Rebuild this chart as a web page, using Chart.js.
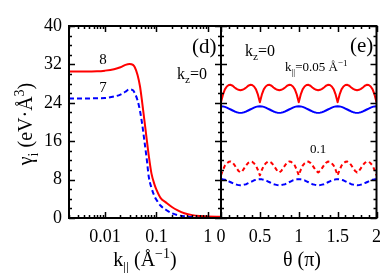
<!DOCTYPE html>
<html>
<head>
<meta charset="utf-8">
<script src="https://cdn.jsdelivr.net/npm/chart.js@4.4.0/dist/chart.umd.min.js"></script>
<style>
  html, body { margin: 0; padding: 0; background: #fff; }
  #wrap { position: relative; width: 389px; height: 273px; overflow: hidden; }
  canvas { position: absolute; top: 0; }
  #leftC { left: 0; }
  #rightC { left: 200px; }
</style>
</head>
<body>
<div id="wrap">
  <canvas id="leftC" width="222" height="273"></canvas>
  <canvas id="rightC" width="189" height="273"></canvas>
</div>
<script>
// ---- data, panel (d): gamma vs k_par (log axis)
const kPar = [0.002, 0.004, 0.007, 0.01, 0.015, 0.02, 0.025, 0.03, 0.035, 0.038, 0.043, 0.048, 0.053, 0.058,
  0.065, 0.071, 0.08, 0.093, 0.1, 0.12, 0.155, 0.2, 0.26, 0.35, 0.5, 0.7, 1, 1.8];
const gamma8 = [30.5, 30.5, 30.55, 30.7, 31.0, 31.4, 31.9, 32.1, 31.9, 31.4, 29.8, 27.4, 24.0, 20.6,
  16.3, 13.0, 9.3, 6.8, 5.9, 4.2, 3.2, 2.3, 1.6, 1.0, 0.6, 0.4, 0.3, 0.25];
const gamma7 = [24.9, 24.9, 24.95, 25.0, 25.3, 25.7, 26.3, 26.8, 26.6, 26.0, 24.5, 22.3, 19.5, 16.3,
  12.2, 8.6, 6.3, 4.4, 3.8, 2.6, 1.67, 1.0, 0.6, 0.35, 0.2, 0.15, 0.1, 0.1];

// ---- data, panel (e): gamma vs theta (units of pi)
const theta = [
  0, 0.025, 0.05, 0.075, 0.1, 0.125, 0.15, 0.175, 0.2, 0.225, 0.25, 0.275, 0.3, 0.325, 0.35, 0.375, 0.4, 0.425, 0.45, 0.475,
  0.5, 0.525, 0.55, 0.575, 0.6, 0.625, 0.65, 0.675, 0.7, 0.725, 0.75, 0.775, 0.8, 0.825, 0.85, 0.875, 0.9, 0.925, 0.95, 0.975,
  1, 1.025, 1.05, 1.075, 1.1, 1.125, 1.15, 1.175, 1.2, 1.225, 1.25, 1.275, 1.3, 1.325, 1.35, 1.375, 1.4, 1.425, 1.45, 1.475,
  1.5, 1.525, 1.55, 1.575, 1.6, 1.625, 1.65, 1.675, 1.7, 1.725, 1.75, 1.775, 1.8, 1.825, 1.85, 1.875, 1.9, 1.925, 1.95, 1.975,
  2];
// k_par = 0.05, band 8 (red solid)
const red005 = [
  24.1, 25.7, 26.8, 27.4, 27.7, 27.75, 27.55, 27.2, 26.9, 26.7, 26.6, 26.7, 26.9, 27.2, 27.55, 27.75, 27.7, 27.4, 26.8, 25.7,
  24.1, 25.7, 26.8, 27.4, 27.7, 27.75, 27.55, 27.2, 26.9, 26.7, 26.6, 26.7, 26.9, 27.2, 27.55, 27.75, 27.7, 27.4, 26.8, 25.7,
  24.1, 25.7, 26.8, 27.4, 27.7, 27.75, 27.55, 27.2, 26.9, 26.7, 26.6, 26.7, 26.9, 27.2, 27.55, 27.75, 27.7, 27.4, 26.8, 25.7,
  24.1, 25.7, 26.8, 27.4, 27.7, 27.75, 27.55, 27.2, 26.9, 26.7, 26.6, 26.7, 26.9, 27.2, 27.55, 27.75, 27.7, 27.4, 26.8, 25.7,
  24.1];
// k_par = 0.05, band 7 (blue solid)
const blue005 = [
  23.3, 23.25, 23.15, 23.0, 22.8, 22.6, 22.4, 22.2, 22.05, 21.95, 21.9, 21.95, 22.05, 22.2, 22.4, 22.6, 22.8, 23.0, 23.15, 23.25,
  23.3, 23.25, 23.15, 23.0, 22.8, 22.6, 22.4, 22.2, 22.05, 21.95, 21.9, 21.95, 22.05, 22.2, 22.4, 22.6, 22.8, 23.0, 23.15, 23.25,
  23.3, 23.25, 23.15, 23.0, 22.8, 22.6, 22.4, 22.2, 22.05, 21.95, 21.9, 21.95, 22.05, 22.2, 22.4, 22.6, 22.8, 23.0, 23.15, 23.25,
  23.3, 23.25, 23.15, 23.0, 22.8, 22.6, 22.4, 22.2, 22.05, 21.95, 21.9, 21.95, 22.05, 22.2, 22.4, 22.6, 22.8, 23.0, 23.15, 23.25,
  23.3];
// k_par = 0.1, band 8 (red dashed)
const red01 = [
  8.9, 10.0, 10.9, 11.4, 11.7, 11.75, 11.5, 11.0, 10.4, 9.8, 9.5, 9.8, 10.4, 11.0, 11.5, 11.75, 11.7, 11.4, 10.9, 10.0,
  8.9, 10.0, 10.9, 11.4, 11.7, 11.75, 11.5, 11.0, 10.4, 9.8, 9.5, 9.8, 10.4, 11.0, 11.5, 11.75, 11.7, 11.4, 10.9, 10.0,
  8.9, 10.0, 10.9, 11.4, 11.7, 11.75, 11.5, 11.0, 10.4, 9.8, 9.5, 9.8, 10.4, 11.0, 11.5, 11.75, 11.7, 11.4, 10.9, 10.0,
  8.9, 10.0, 10.9, 11.4, 11.7, 11.75, 11.5, 11.0, 10.4, 9.8, 9.5, 9.8, 10.4, 11.0, 11.5, 11.75, 11.7, 11.4, 10.9, 10.0,
  8.9];
// k_par = 0.1, band 7 (blue dashed)
const blue01 = [
  8.1, 8.05, 7.95, 7.85, 7.65, 7.45, 7.25, 7.05, 6.95, 6.85, 6.8, 6.85, 6.95, 7.05, 7.25, 7.45, 7.65, 7.85, 7.95, 8.05,
  8.1, 8.05, 7.95, 7.85, 7.65, 7.45, 7.25, 7.05, 6.95, 6.85, 6.8, 6.85, 6.95, 7.05, 7.25, 7.45, 7.65, 7.85, 7.95, 8.05,
  8.1, 8.05, 7.95, 7.85, 7.65, 7.45, 7.25, 7.05, 6.95, 6.85, 6.8, 6.85, 6.95, 7.05, 7.25, 7.45, 7.65, 7.85, 7.95, 8.05,
  8.1, 8.05, 7.95, 7.85, 7.65, 7.45, 7.25, 7.05, 6.95, 6.85, 6.8, 6.85, 6.95, 7.05, 7.25, 7.45, 7.65, 7.85, 7.95, 8.05,
  8.1];

// ---- ticks
const yTicks = [0, 8, 16, 24, 32, 40];
const yMinor = [2, 4, 6, 10, 12, 14, 18, 20, 22, 26, 28, 30, 34, 36, 38];
const kTicks = [0.01, 0.1, 1];
const kMinor = [0.002, 0.003, 0.004, 0.005, 0.006, 0.007, 0.008, 0.009, 0.02, 0.03, 0.04, 0.05, 0.06, 0.07, 0.08, 0.09,
  0.2, 0.3, 0.4, 0.5, 0.6, 0.7, 0.8, 0.9];
const thTicks = [0, 0.5, 1, 1.5, 2];
const thMinor = [0.1, 0.2, 0.3, 0.4, 0.6, 0.7, 0.8, 0.9, 1.1, 1.2, 1.3, 1.4, 1.6, 1.7, 1.8, 1.9];

const SERIF = "'Liberation Serif', 'Times New Roman', serif";

// text with sub/superscripts: parts = [[text, ''|'sub'|'sup'], ...]
function rich(ctx, x, y, parts, size, align) {
  const font = s => s + "px " + SERIF;
  let w = 0;
  parts.forEach(([t, m]) => { ctx.font = font(m ? size * 0.7 : size); w += ctx.measureText(t).width; });
  let cx = align === 'center' ? x - w / 2 : x;
  ctx.textAlign = 'left';
  ctx.textBaseline = 'alphabetic';
  parts.forEach(([t, m]) => {
    const s = m ? size * 0.7 : size;
    ctx.font = font(s);
    const dy = m === 'sub' ? size * 0.28 : m === 'sup' ? -size * 0.42 : 0;
    ctx.fillText(t, cx, y + dy);
    cx += ctx.measureText(t).width;
  });
}

function frameTicks(xMajor, xMinorList) {
  return {
    id: 'frameTicks',
    afterDatasetsDraw(chart) {
      const { ctx, chartArea: a, scales: { x, y } } = chart;
      ctx.save();
      ctx.strokeStyle = '#000';
      ctx.lineWidth = 1.5;
      const vt = (list, len) => list.forEach(v => {
        const px = Math.round(x.getPixelForValue(v)) + 0.5;
        ctx.beginPath();
        ctx.moveTo(px, a.bottom); ctx.lineTo(px, a.bottom - len);
        ctx.moveTo(px, a.top); ctx.lineTo(px, a.top + len);
        ctx.stroke();
      });
      const ht = (list, len) => list.forEach(v => {
        const py = Math.round(y.getPixelForValue(v)) + 0.5;
        ctx.beginPath();
        ctx.moveTo(a.left, py); ctx.lineTo(a.left + len, py);
        ctx.moveTo(a.right, py); ctx.lineTo(a.right - len, py);
        ctx.stroke();
      });
      vt(xMajor, 6); vt(xMinorList, 3);
      ht(yTicks, 6); ht(yMinor, 3);
      ctx.lineWidth = 2;
      ctx.strokeRect(a.left, a.top, a.right - a.left, a.bottom - a.top);
      ctx.restore();
    }
  };
}

function labels(offsetX, items) {
  return {
    id: 'labels',
    afterDraw(chart) {
      const ctx = chart.ctx;
      ctx.save();
      ctx.fillStyle = '#000';
      items.forEach(it => {
        if (it.rot) {
          ctx.save();
          ctx.translate(it.x - offsetX, it.y);
          ctx.rotate(-Math.PI / 2);
          rich(ctx, 0, 0, it.parts, it.size, 'center');
          ctx.restore();
        } else {
          rich(ctx, it.x - offsetX, it.y, it.parts, it.size, it.align);
        }
      });
      ctx.restore();
    }
  };
}

const tickFont = { family: SERIF, size: 18 };
const common = {
  responsive: false,
  animation: false,
  events: [],
  plugins: { legend: { display: false }, tooltip: { enabled: false } },
  elements: { point: { radius: 0 }, line: { borderJoinStyle: 'round' } }
};

// panel (d)
new Chart(document.getElementById('leftC'), {
  type: 'line',
  data: {
    datasets: [
      { data: kPar.map((k, i) => ({ x: k, y: gamma8[i] })), borderColor: '#ff0000', borderWidth: 2, cubicInterpolationMode: 'monotone' },
      { data: kPar.map((k, i) => ({ x: k, y: gamma7[i] })), borderColor: '#0000ff', borderWidth: 2, borderDash: [5, 3], cubicInterpolationMode: 'monotone' }
    ]
  },
  options: {
    ...common,
    layout: { padding: { left: 0, right: 1, top: 26, bottom: 0 } },
    scales: {
      x: {
        type: 'logarithmic', min: 0.002, max: 1.8,
        grid: { display: false, drawTicks: false }, border: { display: false },
        afterBuildTicks: s => { s.ticks = kTicks.map(v => ({ value: v })); },
        afterFit: s => { s.height = 55; },
        ticks: { font: tickFont, color: '#000', padding: 8, autoSkip: false, maxRotation: 0, callback: v => String(v) }
      },
      y: {
        min: 0, max: 40,
        grid: { display: false, drawTicks: false }, border: { display: false },
        afterBuildTicks: s => { s.ticks = yTicks.map(v => ({ value: v })); },
        afterFit: s => { s.width = 69; },
        ticks: { font: tickFont, color: '#000', padding: 7 }
      }
    }
  },
  plugins: [frameTicks(kTicks, kMinor), labels(0, [
    { x: 145, y: 266, size: 20, align: 'center', parts: [['k', ''], ['||', 'sub'], [' (Å', ''], ['−1', 'sup'], [')', '']] },
    { x: 32, y: 124, size: 20, rot: true, parts: [['γ', ''], ['i', 'sub'], [' (eV·Å', ''], ['3', 'sup'], [')', '']] },
    { x: 103, y: 64, size: 15, align: 'center', parts: [['8', '']] },
    { x: 103, y: 92, size: 15, align: 'center', parts: [['7', '']] },
    { x: 192, y: 53, size: 21, align: 'left', parts: [['(d)', '']] },
    { x: 177, y: 79, size: 16, align: 'left', parts: [['k', ''], ['z', 'sub'], ['=0', '']] }
  ])]
});

// panel (e)
new Chart(document.getElementById('rightC'), {
  type: 'line',
  data: {
    datasets: [
      { data: theta.map((t, i) => ({ x: t, y: red005[i] })), borderColor: '#ff0000', borderWidth: 2 },
      { data: theta.map((t, i) => ({ x: t, y: blue005[i] })), borderColor: '#0000ff', borderWidth: 2 },
      { data: theta.map((t, i) => ({ x: t, y: red01[i] })), borderColor: '#ff0000', borderWidth: 2, borderDash: [4, 3] },
      { data: theta.map((t, i) => ({ x: t, y: blue01[i] })), borderColor: '#0000ff', borderWidth: 2, borderDash: [5, 3] }
    ]
  },
  options: {
    ...common,
    layout: { padding: { left: 21, right: 6, top: 26, bottom: 0 } },
    scales: {
      x: {
        type: 'linear', min: 0, max: 2,
        grid: { display: false, drawTicks: false }, border: { display: false },
        afterBuildTicks: s => { s.ticks = thTicks.map(v => ({ value: v })); },
        afterFit: s => { s.height = 55; },
        ticks: { font: tickFont, color: '#000', padding: 8, autoSkip: false, maxRotation: 0, callback: v => String(v) }
      },
      y: { min: 0, max: 40, display: false }
    }
  },
  plugins: [frameTicks(thTicks, thMinor), labels(200, [
    { x: 302, y: 266, size: 20, align: 'center', parts: [['θ (π)', '']] },
    { x: 350, y: 52, size: 21, align: 'left', parts: [['(e)', '']] },
    { x: 245, y: 56, size: 16, align: 'left', parts: [['k', ''], ['z', 'sub'], ['=0', '']] },
    { x: 285, y: 71, size: 13, align: 'left', parts: [['k', ''], ['||', 'sub'], ['=0.05 Å', ''], ['−1', 'sup']] },
    { x: 318, y: 153, size: 13, align: 'center', parts: [['0.1', '']] }
  ])]
});
</script>
</body>
</html>
